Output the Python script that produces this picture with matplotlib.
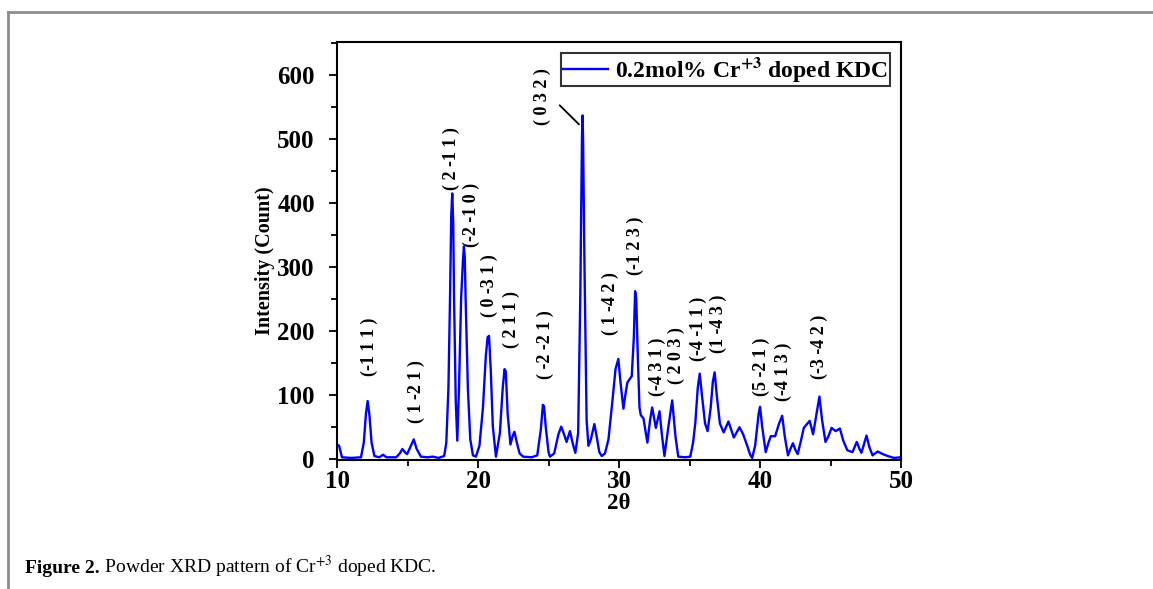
import matplotlib
matplotlib.use("Agg")
import matplotlib.pyplot as plt
from matplotlib.ticker import MultipleLocator
from matplotlib.lines import Line2D

plt.rcParams['font.family'] = ['Liberation Serif', 'DejaVu Serif']
plt.rcParams['mathtext.fontset'] = 'stix'

# XRD pattern (2theta in degrees, intensity in counts)
two_theta = [10.0, 10.15, 10.35, 11.0, 11.7, 11.9, 12.05, 12.17, 12.3, 12.45,
             12.65, 13.0, 13.27, 13.5, 14.2, 14.45, 14.64, 14.85, 14.97, 15.2,
             15.44, 15.65, 15.95, 16.4, 16.8, 17.2, 17.6, 17.75, 17.9, 18.02,
             18.1, 18.17, 18.24, 18.3, 18.42, 18.53, 18.65, 18.8, 18.93, 19.0,
             19.06, 19.12, 19.28, 19.45,
             19.64, 19.85, 20.1, 20.35, 20.55, 20.68, 20.78, 20.9, 21.05, 21.27,
             21.55, 21.75, 21.88, 21.97, 22.1, 22.3, 22.45, 22.58, 22.75, 22.95,
             23.2, 23.8, 24.2, 24.45, 24.6, 24.68, 24.8, 25.0, 25.1, 25.4,
             25.7, 25.9, 26.1, 26.28, 26.52, 26.7, 26.9, 27.1, 27.25, 27.37,
             27.41, 27.45, 27.55, 27.7, 27.83,
             28.0, 28.25, 28.45, 28.6, 28.77, 29.0, 29.25, 29.52, 29.75, 29.95,
             30.1, 30.31, 30.45, 30.59, 30.9, 31.05, 31.14, 31.22, 31.33, 31.45,
             31.54, 31.73, 31.9, 32.01, 32.2, 32.35, 32.61, 32.87, 33.05, 33.22,
             33.5, 33.77, 34.0, 34.2, 34.7, 35.05, 35.25, 35.41, 35.58, 35.72,
             35.9, 36.1, 36.28, 36.5, 36.65, 36.78, 36.95, 37.15, 37.42, 37.76,
             38.14, 38.54, 38.8, 39.09, 39.3, 39.44, 39.65, 39.91, 40.0, 40.15,
             40.4, 40.6, 40.76, 41.07, 41.35, 41.57, 41.75, 41.98, 42.15, 42.33,
             42.5, 42.67, 42.9, 43.1, 43.52, 43.76, 44.0, 44.21, 44.4, 44.64,
             44.85, 45.07, 45.36, 45.66, 45.9, 46.19, 46.55, 46.86, 47.05, 47.19,
             47.4, 47.55, 47.75, 47.98, 48.34, 48.7, 49.05, 49.5, 50.0]
intensity = [22, 20, 2, 1, 2, 25, 70, 90, 68, 25,
             4, 2, 6, 2, 2, 8, 15, 9, 7, 18,
             30, 15, 3, 2, 3, 1, 4, 25, 110, 260,
             380, 415, 370, 250, 90, 28, 110, 250, 310, 332,
             315, 250, 110, 30,
             5, 3, 20, 80, 160, 190, 192, 140, 50, 3,
             40, 110, 140, 136, 70, 22, 35, 42, 25, 8,
             3, 2, 5, 45, 84, 82, 50, 10, 3, 8,
             38, 50, 38, 26, 43, 25, 9, 40, 250, 500,
             537, 500, 300, 60, 20,
             30, 54, 30, 10, 4, 8, 30, 88, 140, 156,
             120, 78, 100, 119, 129, 190, 262, 250, 160, 80,
             68, 63, 40, 25, 60, 80, 48, 74, 35, 4,
             50, 91, 35, 3, 2, 3, 25, 56, 110, 133,
             95, 55, 43, 80, 120, 135, 95, 55, 41, 58,
             33, 49, 38, 20, 6, 1, 20, 72, 81, 50,
             10, 25, 35, 35, 55, 67, 35, 5, 15, 24,
             14, 7, 28, 48, 59, 38, 70, 97, 60, 26,
             35, 48, 43, 47, 28, 13, 10, 26, 15, 9,
             25, 36, 18, 5, 11, 7, 4, 1, 2]

# Miller index labels and where they sit (2theta, counts)
hkl_labels = ["(-1 1 1 )", "( 1 -2 1 )", "( 2 -1 1 )", "(-2 -1 0 )", "( 0 -3 1 )",
              "( 2 1 1 )", "( -2 -2 1 )", "( 0 3 2 )", "( 1 -4 2 )", "(-1 2 3 )",
              "(-4 3 1 )", "( 2 0 3 )", "(-4 -1 1 )", "(1 -4 3 )", "(5 -2 1 )",
              "(-4 1 3 )", "(-3 -4 2 )"]
hkl_x = [12.26, 15.65, 18.13, 19.54, 20.81, 22.37, 24.77, 24.56, 29.36, 31.13,
         32.69, 34.03, 35.65, 37.07, 40.11, 41.66, 44.2]
hkl_y = [175, 105, 469, 381, 270, 217, 178, 567, 242, 333,
         144, 161, 203, 211, 144, 136, 175]

fig = plt.figure(figsize=(11.53, 5.89), dpi=100)

# page frame lines like the journal layout
fig.add_artist(Line2D([0.007, 0.007], [0, 0.98], transform=fig.transFigure,
                      color='#8c8c8c', lw=2))
fig.add_artist(Line2D([0.007, 1.0], [0.98, 0.98], transform=fig.transFigure,
                      color='#8c8c8c', lw=2))

ax = fig.add_axes([0.2923, 0.2182, 0.4892, 0.7105])
ax.plot(two_theta, intensity, color='#0000ff', lw=1.7,
        label=r'0.2mol% Cr$^{\mathbf{+3}}$ doped KDC')

ax.set_xlim(10, 50)
ax.set_ylim(-3, 652)
ax.xaxis.set_major_locator(MultipleLocator(10))
ax.xaxis.set_minor_locator(MultipleLocator(5))
ax.yaxis.set_major_locator(MultipleLocator(100))
ax.yaxis.set_minor_locator(MultipleLocator(50))
ax.tick_params(which='both', direction='out', top=False, right=False, width=1.3)
ax.tick_params(which='major', length=6, labelsize=18)
ax.tick_params(axis='x', which='major', pad=1)
ax.tick_params(axis='y', which='major', pad=10)
ax.tick_params(which='minor', length=4)
for lab in ax.get_xticklabels() + ax.get_yticklabels():
    lab.set_fontweight('bold')
for sp in ax.spines.values():
    sp.set_linewidth(1.5)

ax.set_xlabel('2θ', fontsize=16.5, fontweight='bold', labelpad=0)
ax.set_ylabel('Intensity (Count)', fontsize=14.5, fontweight='bold')
ax.yaxis.set_label_coords(-0.11, 0.478)

for txt, x, y in zip(hkl_labels, hkl_x, hkl_y):
    ax.text(x, y, txt, rotation=90, ha='center', va='center',
            fontsize=13, fontweight='bold')

# leader line for the (0 3 2) label
ax.annotate('', xy=(27.3, 520), xytext=(25.65, 556),
            arrowprops=dict(arrowstyle='-', color='black', lw=1.3))

leg = ax.legend(loc='upper right', frameon=True, fancybox=False,
                handlelength=1.9, handletextpad=0.3, borderpad=0.1,
                borderaxespad=0.45, prop={'weight': 'bold', 'size': 17})
leg.get_frame().set_edgecolor('black')
leg.get_frame().set_linewidth(1.5)

# caption: bold lead-in followed by plain text on the same baseline
t1 = fig.text(0.022, 0.027, 'Figure 2.', fontsize=14, fontweight='bold',
              ha='left', va='baseline')
fig.canvas.draw()
bb = t1.get_window_extent(renderer=fig.canvas.get_renderer())
fig.text(bb.x1 / fig.bbox.width, 0.027,
         r' Powder XRD pattern of Cr$^{+3}$ doped KDC.', fontsize=14,
         ha='left', va='baseline')

fig.savefig('out.png', dpi=100)
